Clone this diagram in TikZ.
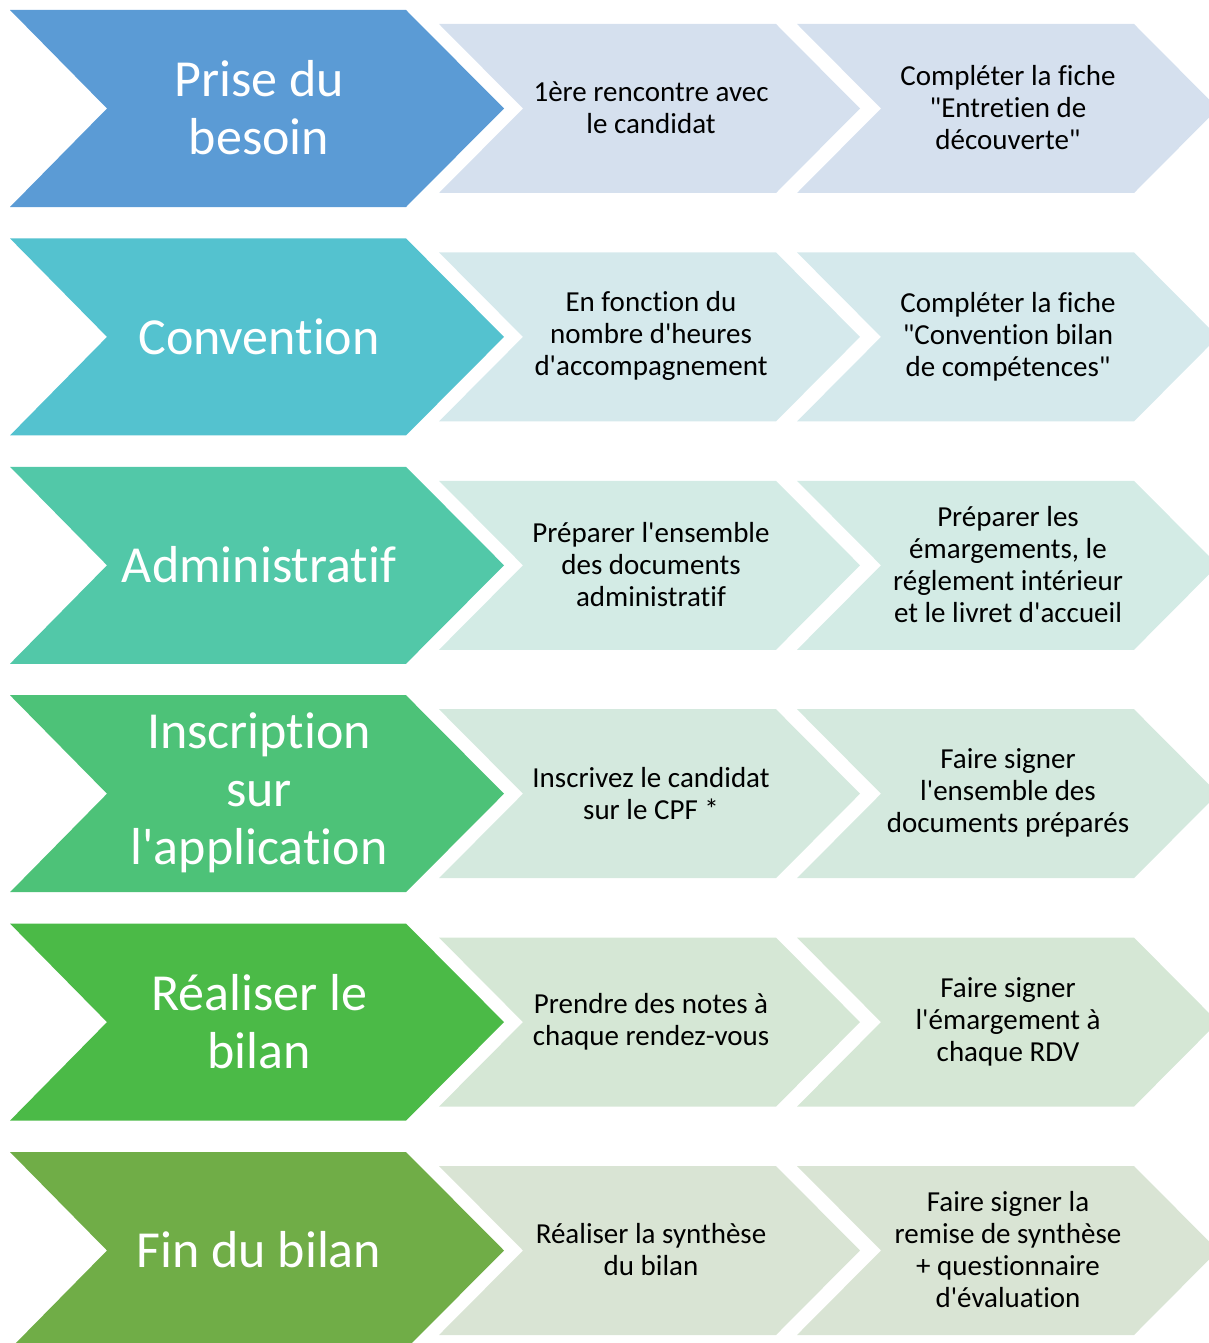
\documentclass[tikz,border=0pt]{standalone}
\usepackage{fontspec}
\setmainfont{Carlito}[Ligatures={TeXOff,CommonOff}]
\definecolor{bA}{HTML}{5B9BD5}\definecolor{sA}{HTML}{D5E0EE}
\definecolor{bB}{HTML}{54C2CF}\definecolor{sB}{HTML}{D5E9EC}
\definecolor{bC}{HTML}{52C8A8}\definecolor{sC}{HTML}{D3EBE5}
\definecolor{bD}{HTML}{4DC278}\definecolor{sD}{HTML}{D4E9DE}
\definecolor{bE}{HTML}{4BBA47}\definecolor{sE}{HTML}{D5E7D5}
\definecolor{bF}{HTML}{70AD47}\definecolor{sF}{HTML}{D9E4D4}
\tikzset{
  bigtxt/.style={align=center,text=white,font=\fontsize{52}{58}\selectfont,inner sep=0pt},
  smalltxt/.style={align=center,text=black,font=\fontsize{29}{32}\selectfont,inner sep=0pt}
}
\begin{document}
\begin{tikzpicture}[x=1pt,y=-1pt]
\useasboundingbox (0,0) rectangle (1209,1343);
\foreach \k/\bc/\sc in {0/bA/sA,1/bB/sB,2/bC/sC,3/bD/sD,4/bE/sE,5/bF/sF}{
  \pgfmathsetmacro{\T}{10+228.4*\k}
  \fill[\bc] (10,\T) -- (406,\T) -- (504,\T+98.5) -- (406,\T+197) -- (10,\T+197) -- (107,\T+98.5) -- cycle;
  \fill[\sc] (439,\T+14) -- (776,\T+14) -- (860,\T+98.5) -- (776,\T+183) -- (439,\T+183) -- (523,\T+98.5) -- cycle;
  \fill[\sc] (797,\T+14) -- (1134,\T+14) -- (1218,\T+98.5) -- (1134,\T+183) -- (797,\T+183) -- (881,\T+98.5) -- cycle;
}
% row 1
\node[bigtxt] (b1) at (259,108) {Prise du\\besoin};
\node[smalltxt] (s11) at (651,108) {1ère rencontre avec\\le candidat};
\node[smalltxt] (s12) at (1008,108) {Compléter la fiche\\"Entretien de\\découverte"};
% row 2
\node[bigtxt] (b2) at (259,336.4) {Convention};
\node[smalltxt] (s21) at (651,336.4) {En fonction du\\nombre d'heures\\d'accompagnement};
\node[smalltxt] (s22) at (1008,336.4) {Compléter la fiche\\"Convention bilan\\de compétences"};
% row 3
\node[bigtxt] (b3) at (259,564.8) {Administratif};
\node[smalltxt] (s31) at (651,564.8) {Préparer l'ensemble\\des documents\\administratif};
\node[smalltxt] (s32) at (1008,564.8) {Préparer les\\émargements, le\\réglement intérieur\\et le livret d'accueil};
% row 4
\node[bigtxt] (b4) at (259,793.2) {Inscription\\sur\\l'application};
\node[smalltxt] (s41) at (651,793.2) {Inscrivez le candidat\\sur le CPF *};
\node[smalltxt] (s42) at (1008,793.2) {Faire signer\\l'ensemble des\\documents préparés};
% row 5
\node[bigtxt] (b5) at (259,1021.6) {Réaliser le\\bilan};
\node[smalltxt] (s51) at (651,1021.6) {Prendre des notes à\\chaque rendez-vous};
\node[smalltxt] (s52) at (1008,1021.6) {Faire signer\\l'émargement à\\chaque RDV};
% row 6
\node[bigtxt] (b6) at (259,1250) {Fin du bilan};
\node[smalltxt] (s61) at (651,1250) {Réaliser la synthèse\\du bilan};
\node[smalltxt] (s62) at (1008,1250) {Faire signer la\\remise de synthèse\\+ questionnaire\\d'évaluation};
\end{tikzpicture}
\end{document}
